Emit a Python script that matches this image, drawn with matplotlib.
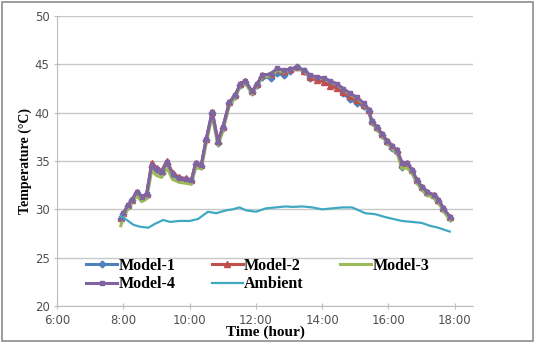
import numpy as np
import matplotlib
matplotlib.use("Agg")
import matplotlib.pyplot as plt
from matplotlib.patches import Rectangle

# time of day in hours
model_hours = [7.92, 8.00, 8.13, 8.26, 8.40, 8.55, 8.70, 8.85, 9.00, 9.15,
               9.31, 9.48, 9.68, 9.88, 10.05, 10.18, 10.35, 10.50, 10.68, 10.85,
               11.00, 11.20, 11.37, 11.53, 11.68, 11.88, 12.04, 12.19, 12.44, 12.64,
               12.84, 13.04, 13.24, 13.44, 13.64, 13.84, 14.04, 14.24, 14.44, 14.64,
               14.84, 15.05, 15.25, 15.40, 15.50, 15.65, 15.80, 15.95, 16.10, 16.26,
               16.41, 16.56, 16.71, 16.86, 17.01, 17.16, 17.36, 17.51, 17.66, 17.86]

model1 = [29.0, 29.5, 30.3, 31.0, 31.7, 31.2, 31.5, 34.4, 34.1, 33.8,
          34.7, 33.6, 33.1, 33.0, 32.9, 34.7, 34.5, 37.2, 40.0, 36.9,
          38.4, 41.0, 41.7, 42.9, 43.2, 42.1, 42.9, 43.7, 43.6, 44.1,
          43.9, 44.3, 44.7, 44.3, 43.6, 43.5, 43.4, 43.1, 42.7, 42.0,
          41.4, 41.0, 40.7, 40.2, 39.0, 38.4, 37.7, 37.0, 36.4, 35.9,
          34.4, 34.6, 34.0, 32.9, 32.2, 31.7, 31.4, 30.9, 30.0, 29.1]
model2 = [29.1, 29.6, 30.4, 31.0, 31.8, 31.3, 31.6, 34.8, 34.3, 34.0,
          35.0, 33.8, 33.3, 33.2, 33.0, 34.8, 34.6, 37.3, 40.1, 37.1,
          38.5, 41.1, 41.8, 43.0, 43.3, 42.2, 43.0, 43.9, 44.0, 44.5,
          44.3, 44.5, 44.7, 44.3, 43.7, 43.4, 43.2, 42.8, 42.6, 42.1,
          41.7, 41.3, 40.8, 40.3, 39.1, 38.5, 37.8, 37.1, 36.6, 36.1,
          34.8, 34.8, 34.1, 33.0, 32.3, 31.8, 31.5, 31.0, 30.1, 29.2]
model3 = [28.3, 29.2, 30.0, 30.7, 31.4, 30.8, 31.1, 34.0, 33.5, 33.3,
          34.3, 33.1, 32.8, 32.7, 32.6, 34.3, 34.2, 36.9, 39.7, 36.6,
          38.1, 40.8, 41.5, 42.8, 43.1, 41.9, 42.8, 43.7, 43.8, 44.4,
          44.2, 44.4, 44.6, 44.3, 43.8, 43.6, 43.5, 43.2, 42.9, 42.4,
          41.9, 41.5, 40.9, 40.2, 38.9, 38.3, 37.6, 36.9, 36.3, 35.8,
          34.2, 34.3, 33.7, 32.7, 32.0, 31.5, 31.2, 30.7, 29.8, 28.9]
model4 = [29.1, 29.6, 30.4, 31.0, 31.8, 31.3, 31.6, 34.6, 34.2, 33.9,
          34.9, 33.7, 33.2, 33.1, 33.0, 34.8, 34.6, 37.3, 40.1, 37.0,
          38.5, 41.1, 41.8, 43.0, 43.3, 42.2, 43.0, 43.9, 44.0, 44.6,
          44.4, 44.5, 44.75, 44.4, 43.9, 43.7, 43.6, 43.3, 43.0, 42.5,
          42.0, 41.6, 41.0, 40.3, 39.1, 38.5, 37.8, 37.1, 36.6, 36.1,
          34.8, 34.8, 34.1, 33.0, 32.3, 31.8, 31.5, 31.0, 30.1, 29.2]

ambient_hours = [7.92, 8.10, 8.30, 8.50, 8.75, 8.95, 9.20, 9.40, 9.70, 10.00,
                 10.25, 10.55, 10.80, 11.10, 11.30, 11.50, 11.70, 12.00, 12.30, 12.60,
                 12.90, 13.10, 13.40, 13.70, 14.00, 14.30, 14.60, 14.90, 15.10, 15.30,
                 15.60, 15.90, 16.15, 16.40, 16.70, 17.00, 17.25, 17.50, 17.85]
ambient = [29.3, 28.9, 28.4, 28.2, 28.1, 28.5, 28.9, 28.7, 28.8, 28.8,
           29.0, 29.75, 29.6, 29.9, 30.0, 30.2, 29.9, 29.75, 30.1, 30.2,
           30.3, 30.25, 30.3, 30.2, 30.0, 30.1, 30.2, 30.2, 29.9, 29.6,
           29.5, 29.2, 29.0, 28.8, 28.7, 28.6, 28.3, 28.1, 27.7]

xticks = [6, 8, 10, 12, 14, 16, 18]
xtick_labels = ["6:00", "8:00", "10:00", "12:00", "14:00", "16:00", "18:00"]
yticks = [20, 25, 30, 35, 40, 45, 50]

serif_bold = dict(family="Liberation Serif", weight="bold")

fig = plt.figure(figsize=(5.35, 3.43), dpi=100)
ax = fig.add_axes([0.107, 0.108, 0.777, 0.845])

l1, = ax.plot(model_hours, model1, color="#4F81BD", lw=2.2, marker="D", ms=3.5, label="Model-1")
l2, = ax.plot(model_hours, model2, color="#C0504D", lw=2.2, marker="^", ms=4, label="Model-2")
l3, = ax.plot(model_hours, model3, color="#9BBB59", lw=2.2, label="Model-3")
l4, = ax.plot(model_hours, model4, color="#8064A2", lw=2.2, marker="s", ms=3.5, label="Model-4")
l5, = ax.plot(ambient_hours, ambient, color="#3FA9C2", lw=1.6, label="Ambient")

ax.set_xlim(6, 18.55)
ax.set_ylim(20, 50)
ax.set_xticks(xticks)
ax.set_xticklabels(xtick_labels)
ax.set_yticks(yticks)
ax.grid(axis="y", color="#C8C8C8", lw=1)
ax.set_axisbelow(True)
for s in ["top", "right"]:
    ax.spines[s].set_visible(False)
for s in ["left", "bottom"]:
    ax.spines[s].set_color("#BEBEBE")
ax.tick_params(colors="#BEBEBE", labelcolor="#505050", labelsize=8.5, length=4,
               direction="inout")

ax.set_ylabel("Temperature (\u00b0C)", fontsize=10, labelpad=2, **serif_bold)
ax.set_xlabel("Time (hour)", fontsize=11, labelpad=-1, **serif_bold)

# legend is filled column by column, so order the handles to read row by row
handles = [l1, l4, l2, l5, l3]
ax.legend(handles, [h.get_label() for h in handles],
          loc="lower left", bbox_to_anchor=(0.055, 0.025), ncol=3, frameon=False,
          prop=dict(family="Liberation Serif", weight="bold", size=11.5),
          handlelength=1.9, handletextpad=0.1, columnspacing=2.3,
          labelspacing=0.15, borderaxespad=0)

fig.patches.append(Rectangle((0.004, 0.006), 0.992, 0.988, transform=fig.transFigure,
                             fill=False, edgecolor="#8C8C8C", lw=1.2))

fig.savefig("out.png", dpi=100)
